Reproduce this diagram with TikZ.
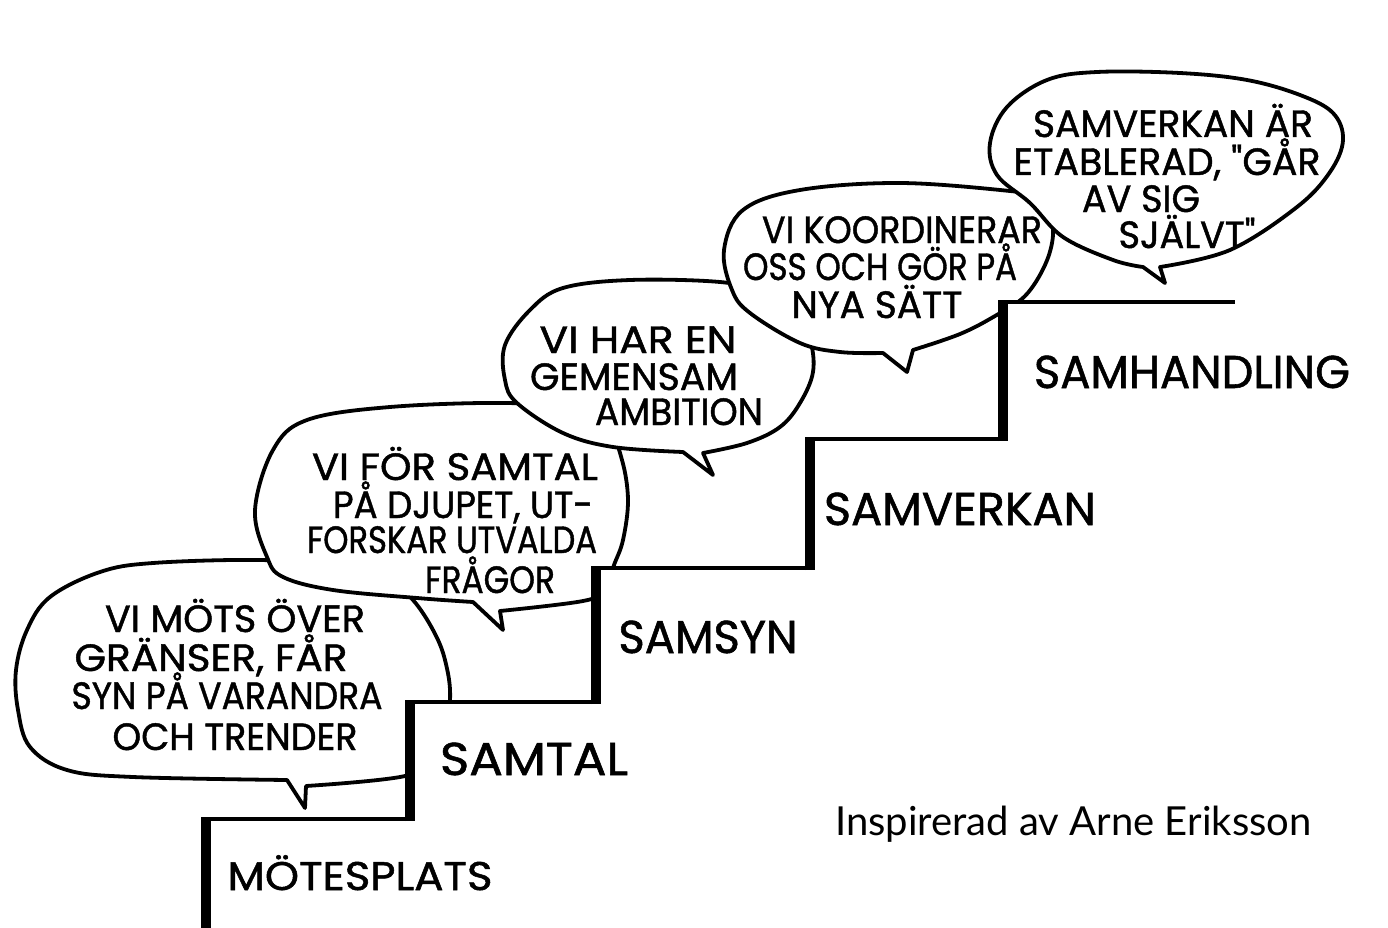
\documentclass[tikz,border=0pt]{standalone}
\usepackage{fontspec}
\newfontfamily\handfont{Poppins}[FakeBold=1.2]
\newfontfamily\latofont{Lato}
\newcommand\hw[2]{\resizebox{#1pt}{\height}{#2}}
\begin{document}
\begin{tikzpicture}[x=1pt,y=-1pt,
  bubble/.style={draw=black, fill=white, line width=3.8pt, line join=round},
  stairline/.style={line width=4.5pt, line join=miter},
  riser/.style={line width=10pt},
  btext/.style={inner sep=0pt, anchor=base, font=\handfont\fontsize{38}{40}\selectfont},
  slabel/.style={inner sep=0pt, anchor=base, font=\handfont\fontsize{46}{48}\selectfont},
]
\useasboundingbox (0,0) rectangle (1388,928);
\fill[white] (0,0) rectangle (1388,928);

% bubble 1
\path[bubble] plot[smooth, tension=0.6] coordinates {(306,786) (405,776) (440,755) (450,700) (445,660) (433,630) (413,600) (390,582) (330,566) (260,560) (153,563) (100,572) (50,597) (27,630) (16,670) (18,710) (30,747) (67,770) (133,777) (287,780)} -- (305,808) -- cycle;
% bubble 2
\path[bubble] plot[smooth, tension=0.6] coordinates {(500,611) (583,601) (605,590) (614,565) (623,540) (628,500) (622,460) (608,430) (570,410) (507,403) (390,407) (307,420) (273,450) (255,510) (267,557) (283,577) (333,590) (417,598) (473,602)} -- (503,630) -- cycle;
% bubble 3
\path[bubble] plot[smooth, tension=0.6] coordinates {(703,453) (747,443) (780,427) (800,403) (813,372) (810,340) (795,315) (760,292) (720,282) (630,280) (563,288) (530,310) (505,345) (505,380) (517,403) (563,433) (613,447) (683,452)} -- (713,475) -- cycle;
% bubble 4
\path[bubble] plot[smooth, tension=0.6] coordinates {(913,350) (960,334) (995,316) (1025,296) (1045,265) (1053,235) (1048,212) (1030,196) (1010,191) (900,183) (800,190) (743,210) (724,250) (732,290) (750,313) (800,343) (840,352) (883,353)} -- (907,372) -- cycle;
% bubble 5
\path[bubble] plot[smooth, tension=0.6] coordinates {(1160,267) (1230,250) (1297,207) (1330,172) (1343,140) (1333,113) (1300,95) (1247,80) (1180,73) (1097,72) (1047,80) (1007,107) (990,143) (997,175) (1030,203) (1063,237) (1113,260) (1143,267)} -- (1165,283) -- cycle;

% staircase
\fill[white] (206,928) -- (206,819) -- (410,819) -- (410,702) -- (596,702) -- (596,568) -- (810,568) -- (810,439) -- (1003,439) -- (1003,302) -- (1388,302) -- (1388,928) -- cycle;
\draw[stairline] (206,928) -- (206,819) -- (410,819) -- (410,702) -- (596,702) -- (596,568) -- (810,568) -- (810,439) -- (1003,439) -- (1003,302) -- (1235,302);
\draw[riser] (206,928) -- (206,817);
\draw[riser] (410,821) -- (410,700);
\draw[riser] (596,704) -- (596,566);
\draw[riser] (810,570) -- (810,437);
\draw[riser] (1003,441) -- (1003,300);

% bubble texts
\node[btext] (b1a) at (235,632) {\hw{260}{VI MÖTS ÖVER}};
\node[btext] (b1b) at (211,671) {\hw{273}{GRÄNSER, FÅR}};
\node[btext] (b1c) at (227,709) {\hw{311}{SYN PÅ VARANDRA}};
\node[btext] (b1d) at (235,750) {\hw{245}{OCH TRENDER}};

\node[btext] (b2a) at (455,480) {\hw{286}{VI FÖR SAMTAL}};
\node[btext] (b2b) at (463,518) {\hw{260}{PÅ DJUPET, UT-}};
\node[btext] (b2c) at (452,553) {\hw{290}{FORSKAR UTVALDA}};
\node[btext] (b2d) at (490,593) {\hw{130}{FRÅGOR}};

\node[btext] (b3a) at (638,353) {\hw{197}{VI HAR EN}};
\node[btext] (b3b) at (634,390) {\hw{208}{GEMENSAM}};
\node[btext] (b3c) at (679,425) {\hw{168}{AMBITION}};

\node[btext] (b4a) at (902,243) {\hw{280}{VI KOORDINERAR}};
\node[btext] (b4b) at (880,280) {\hw{274}{OSS OCH GÖR PÅ}};
\node[btext] (b4c) at (877,318) {\hw{171}{NYA SÄTT}};

\node[btext] (b5a) at (1173,137) {\hw{280}{SAMVERKAN ÄR}};
\node[btext] (b5b) at (1167,175) {\hw{307}{ETABLERAD, "GÅR}};
\node[btext] (b5c) at (1141,212) {\hw{118}{AV SIG}};
\node[btext] (b5d) at (1187,248) {\hw{137}{SJÄLVT"}};

% stair labels
\node[slabel, font=\handfont\fontsize{40}{42}\selectfont] (l1) at (360,890) {\hw{265}{MÖTESPLATS}};
\node[slabel] (l2) at (534,775) {\hw{188}{SAMTAL}};
\node[slabel] (l3) at (708,653) {\hw{179}{SAMSYN}};
\node[slabel] (l4) at (960,525) {\hw{272}{SAMVERKAN}};
\node[slabel] (l5) at (1192,388) {\hw{316}{SAMHANDLING}};

\node[inner sep=0pt, anchor=base west, font=\latofont\fontsize{40}{42}\selectfont] (credit) at (835,835) {Inspirerad av Arne Eriksson};
\end{tikzpicture}
\end{document}
